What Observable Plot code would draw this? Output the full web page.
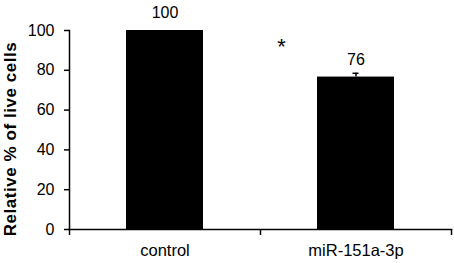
<!DOCTYPE html>
<html>
<head>
<meta charset="utf-8">
<script src="https://cdn.jsdelivr.net/npm/d3@7"></script>
<script src="https://cdn.jsdelivr.net/npm/@observablehq/plot@0.6"></script>
<style>
  html, body { margin: 0; padding: 0; background: #fff; }
</style>
</head>
<body>
<div id="chart"></div>
<script>
const categories = ["control", "miR-151a-3p"];
const values = [100, 76.6];
const errors = [0, 1.9];
const valueLabels = ["100", "76"];
const yTicks = [0, 20, 40, 60, 80, 100];
const yTitle = "Relative % of live cells";
const sigCategory = ["miR-151a-3p"];
const sigY = [91.5];
const sigText = ["*"];

const data = categories.map((c, i) => ({category: c, value: values[i], err: errors[i], label: valueLabels[i]}));
const withErr = data.filter(d => d.err > 0);
const sig = sigCategory.map((c, i) => ({category: c, y: sigY[i], text: sigText[i]}));

const font = "'Liberation Sans', Arial, sans-serif";
const chart = Plot.plot({
  width: 454,
  height: 263,
  marginLeft: 69,
  marginRight: 3,
  marginTop: 30,
  marginBottom: 34,
  x: {domain: categories, padding: 0, axis: null},
  y: {domain: [0, 100], axis: null},
  style: {fontFamily: font, fontSize: "16px", color: "#000", background: "#fff"},
  marks: [
    Plot.barY(data, {x: "category", y: "value", fill: "#000", insetLeft: 57, insetRight: 57}),
    Plot.ruleX(withErr, {x: "category", y1: "value", y2: d => d.value + d.err, stroke: "#000", strokeWidth: 1.5}),
    Plot.tickY(withErr, {x: "category", y: d => d.value + d.err, insetLeft: 92.5, insetRight: 92.5, stroke: "#000", strokeWidth: 1.5}),
    Plot.text(data, {x: "category", y: "value", text: "label", lineAnchor: "bottom", dy: -12.5, fontSize: 16, fill: "#000"}),
    Plot.text(sig, {x: "category", y: "y", text: "text", dx: -74.5, fontSize: 22, fill: "#000"}),
    Plot.frame({anchor: "left", stroke: "#000", strokeWidth: 1.5}),
    Plot.frame({anchor: "bottom", stroke: "#000", strokeWidth: 1.5}),
    Plot.axisY({ticks: yTicks, tickSize: 5, tickPadding: 10, fontSize: 16, label: null, stroke: "#000", strokeWidth: 1.5, fill: "#000"}),
    Plot.axisX({tickSize: 0, tickPadding: 15, fontSize: 16.5, label: null, fill: "#000"}),
    Plot.ruleX(categories, {x: d => d, y1: 0, y2: 0, insetBottom: -6, dx: -95.5, stroke: "#000", strokeWidth: 1.5}),
    Plot.ruleX(categories.slice(-1), {x: d => d, y1: 0, y2: 0, insetBottom: -6, dx: 95.5, stroke: "#000", strokeWidth: 1.5}),
    Plot.text([yTitle], {frameAnchor: "left", textAnchor: "middle", lineAnchor: "middle", text: d => d, rotate: -90, dx: -58.6, dy: 9, fontWeight: "bold", fontSize: 17, fill: "#000"})
  ]
});
d3.select(chart).selectAll("text").filter(function() { return this.textContent === yTitle; }).style("letter-spacing", "0.55px");
document.getElementById("chart").appendChild(chart);
</script>
</body>
</html>
